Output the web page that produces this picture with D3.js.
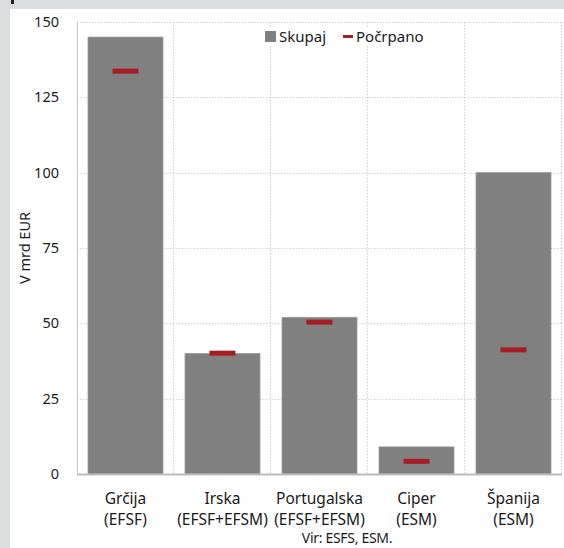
<!DOCTYPE html>
<html>
<head>
<meta charset="utf-8">
<script src="https://cdn.jsdelivr.net/npm/d3@7"></script>
<style>
  html, body { margin: 0; padding: 0; background: #fff; }
  svg { display: block; }
  text { font-family: "Noto Sans", "Open Sans", sans-serif; fill: #1a1a1a; }
</style>
</head>
<body>
<script>
// Programi pomoči: skupni obseg in počrpana sredstva (mrd EUR)
const categories = ["Grčija", "Irska", "Portugalska", "Ciper", "Španija"];
const facilities = ["(EFSF)", "(EFSF+EFSM)", "(EFSF+EFSM)", "(ESM)", "(ESM)"];
const totalValues = [145, 40, 52, 9, 100];
const drawnValues = [133.7, 40.1, 50.4, 4.2, 41.2];
const yTicks = [0, 25, 50, 75, 100, 125, 150];
const seriesNames = ["Skupaj", "Počrpano"];
const yTitle = "V mrd EUR";
const sourceNote = "Vir: ESFS, ESM.";

const W = 564, H = 548;
const plot = { left: 77, right: 562, top: 22, bottom: 474 };

const svg = d3.select("body").append("svg").attr("width", W).attr("height", H);

// Sivi okvir zgoraj in levo
svg.append("rect").attr("x", 0).attr("y", 0).attr("width", W).attr("height", 9).attr("fill", "#dcdddf");
svg.append("rect").attr("x", 0).attr("y", 0).attr("width", 10).attr("height", H).attr("fill", "#dcdddf");
svg.append("rect").attr("x", 11).attr("y", 0).attr("width", 3).attr("height", 4).attr("fill", "#222");

const x = d3.scaleBand()
  .domain(categories)
  .range([plot.left, plot.right])
  .paddingInner(0.227)
  .paddingOuter(0.1135);

const y = d3.scaleLinear().domain([0, 150]).range([plot.bottom, plot.top]);

const step = x.step();
const grid = svg.append("g").attr("stroke", "#d2d2d2").attr("stroke-width", 1.2)
  .attr("stroke-dasharray", "1.5,1.5").attr("fill", "none");

// Vodoravne mrežne črte
yTicks.filter(t => t > 0).forEach(t => {
  grid.append("line")
    .attr("x1", plot.left).attr("x2", plot.right)
    .attr("y1", Math.round(y(t)) + 0.5).attr("y2", Math.round(y(t)) + 0.5);
});
// Navpične črte med kategorijami in desni rob
categories.forEach(c => {
  const xr = Math.round(x(c) - (step - x.bandwidth()) / 2 + step) - 0.5;
  grid.append("line")
    .attr("x1", xr).attr("x2", xr)
    .attr("y1", plot.top).attr("y2", plot.bottom);
});

// Stolpci: skupni obseg
svg.append("g").selectAll("rect").data(categories).join("rect")
  .attr("x", d => x(d))
  .attr("y", (d, i) => y(totalValues[i]))
  .attr("width", x.bandwidth())
  .attr("height", (d, i) => y(0) - y(totalValues[i]))
  .attr("fill", "#808080")
  .attr("stroke", "#9a9a9a")
  .attr("stroke-width", 0.8);

// Oznake počrpanih sredstev
const mW = 26, mH = 5;
svg.append("g").selectAll("rect").data(categories).join("rect")
  .attr("x", d => x(d) + x.bandwidth() / 2 - mW / 2)
  .attr("y", (d, i) => y(drawnValues[i]) - mH / 2)
  .attr("width", mW).attr("height", mH)
  .attr("fill", "#a51d24");

// Osi
svg.append("line").attr("x1", plot.left + 0.5).attr("x2", plot.left + 0.5)
  .attr("y1", plot.top).attr("y2", plot.bottom).attr("stroke", "#c4c4c4").attr("stroke-width", 1);
svg.append("line").attr("x1", plot.left).attr("x2", plot.right)
  .attr("y1", plot.bottom + 0.5).attr("y2", plot.bottom + 0.5).attr("stroke", "#bdbdbd").attr("stroke-width", 2);

const yAxis = d3.axisLeft(y).tickValues(yTicks).tickSize(0).tickPadding(0);
const yg = svg.append("g").attr("transform", `translate(${plot.left - 18},0)`).call(yAxis);
yg.select(".domain").remove();
yg.selectAll("text").attr("font-size", 14.5).attr("font-family", "Noto Sans, sans-serif")
  .attr("fill", "#1a1a1a").attr("dy", "0.32em");

const xAxis = d3.axisBottom(x).tickSize(0).tickFormat("");
const xg = svg.append("g").attr("transform", `translate(0,${plot.bottom})`).call(xAxis);
xg.select(".domain").remove();
xg.selectAll(".tick").each(function(d, i) {
  const t = d3.select(this).append("text").attr("text-anchor", "middle")
    .attr("font-size", 15.5).attr("fill", "#1a1a1a");
  t.append("tspan").attr("x", 0).attr("y", 30).text(categories[i]);
  t.append("tspan").attr("x", 0).attr("y", 51).text(facilities[i]);
});

// Naslov osi y
svg.append("text")
  .attr("transform", `translate(30,${(plot.top + plot.bottom) / 2}) rotate(-90)`)
  .attr("text-anchor", "middle").attr("font-size", 14.5)
  .text(yTitle);

// Vir
svg.append("text").attr("x", 347).attr("y", 543).attr("text-anchor", "middle")
  .attr("font-size", 14).attr("letter-spacing", -0.3).text(sourceNote);

// Legenda
const lg = svg.append("g");
lg.append("rect").attr("x", 262).attr("y", 27).attr("width", 170).attr("height", 18).attr("fill", "#fff");
lg.append("rect").attr("x", 265).attr("y", 31).attr("width", 11).attr("height", 11).attr("fill", "#808080");
lg.append("text").attr("x", 279).attr("y", 41.5).attr("font-size", 15).text(seriesNames[0]);
lg.append("rect").attr("x", 343).attr("y", 35).attr("width", 10).attr("height", 3).attr("fill", "#a51d24");
lg.append("text").attr("x", 356).attr("y", 41.5).attr("font-size", 15).text(seriesNames[1]);
</script>
</body>
</html>
